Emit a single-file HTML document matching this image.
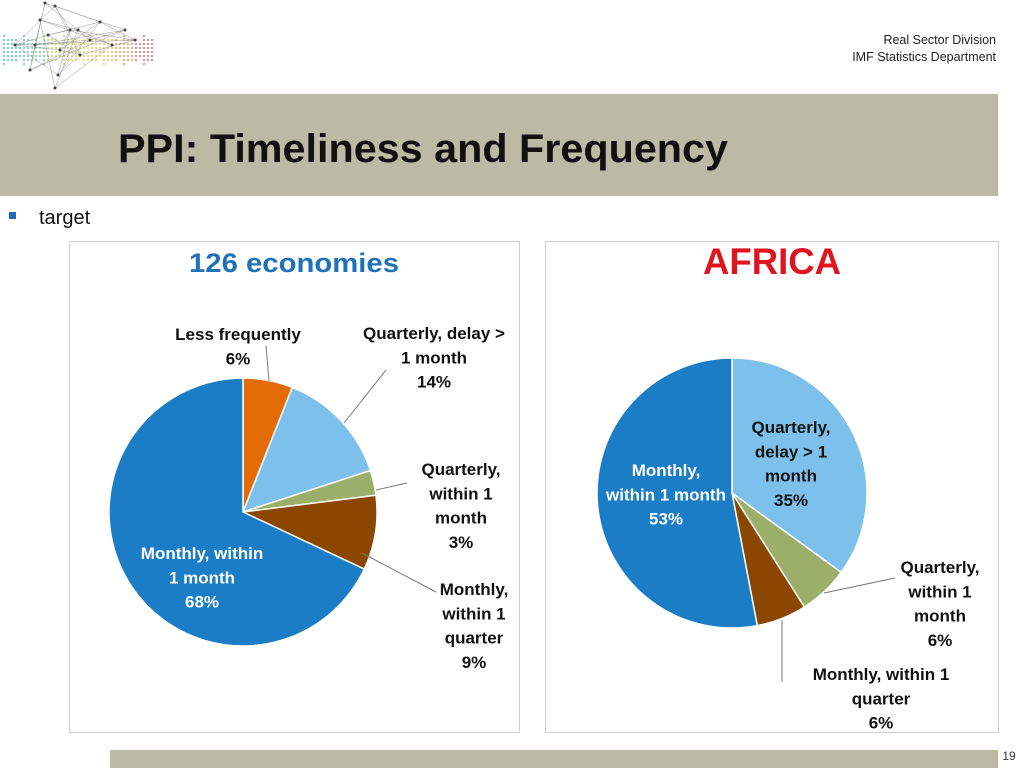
<!DOCTYPE html>
<html><head><meta charset="utf-8">
<style>
html,body{margin:0;padding:0;background:#fff;}
svg{display:block;font-family:"Liberation Sans",sans-serif;}
</style></head>
<body>
<svg id="s" width="1024" height="768" viewBox="0 0 1024 768" xmlns="http://www.w3.org/2000/svg">
  <g id="logo"></g>
  <text x="996" y="44" font-size="12.5" text-anchor="end" fill="#222">Real Sector Division</text>
  <text x="996" y="61" font-size="12.5" text-anchor="end" fill="#222">IMF Statistics Department</text>
  <rect x="0" y="94" width="998" height="102" fill="#BBBBA5"/>
  <text x="118" y="162" font-size="40" font-weight="bold" fill="#111" textLength="610" lengthAdjust="spacingAndGlyphs">PPI: Timeliness and Frequency</text>
  <rect x="9" y="212" width="7" height="7" fill="#1F6DB5"/>
  <text x="39" y="224" font-size="20" fill="#111">target</text>

  <rect x="69.5" y="241.5" width="450" height="491" fill="#fff" stroke="#D0D0D0"/>
  <rect x="545.5" y="241.5" width="453" height="491" fill="#fff" stroke="#D0D0D0"/>
  <text x="294" y="272" font-size="27" font-weight="bold" fill="#1F72B8" text-anchor="middle" textLength="210" lengthAdjust="spacingAndGlyphs">126 economies</text>
  <text x="772" y="274" font-size="37" font-weight="bold" fill="#E0141E" text-anchor="middle" textLength="138" lengthAdjust="spacingAndGlyphs">AFRICA</text>

  <g id="pie1"></g>
  <g id="pie2"></g>
  <g id="labels" font-size="17" font-weight="bold" text-anchor="middle"></g>

  <rect x="110" y="750" width="888" height="18" fill="#BBBBA5"/>
  <text x="1009" y="760" font-size="12" fill="#333" text-anchor="middle">19</text>
</svg>
<script>
const cats1 = ["Less frequently","Quarterly, delay > 1 month","Quarterly, within 1 month","Monthly, within 1 quarter","Monthly, within 1 month"];
const vals1 = [6,14,3,9,68];
const cols1 = ["#E36C09","#7DC0EC","#9BAF6A","#8B4700","#1B7DC6"];
const cats2 = ["Quarterly, delay > 1 month","Quarterly, within 1 month","Monthly, within 1 quarter","Monthly, within 1 month"];
const vals2 = [35,6,6,53];
const cols2 = ["#7DC0EC","#9BAF6A","#8B4700","#1B7DC6"];
const NS="http://www.w3.org/2000/svg";
function pie(g,cx,cy,r,vals,cols,cats){
  const tot=vals.reduce((a,b)=>a+b,0);let a0=0;
  vals.forEach((v,i)=>{
    const a1=a0+v/tot*2*Math.PI;
    const x0=cx+r*Math.sin(a0),y0=cy-r*Math.cos(a0),x1=cx+r*Math.sin(a1),y1=cy-r*Math.cos(a1);
    const p=document.createElementNS(NS,"path");
    p.setAttribute("d",`M${cx},${cy}L${x0},${y0}A${r},${r} 0 ${a1-a0>Math.PI?1:0} 1 ${x1},${y1}Z`);
    p.setAttribute("fill",cols[i]);p.setAttribute("stroke","#fff");p.setAttribute("stroke-width","1.5");
    
    
    g.appendChild(p);a0=a1;
  });
}
pie(document.getElementById("pie1"),243,512,134,vals1,cols1,cats1);
pie(document.getElementById("pie2"),732,493,135,vals2,cols2,cats2);

const L=document.getElementById("labels");
function lab(lines,x,y,fill,name){
  const t=document.createElementNS(NS,"text");
  
  
  t.setAttribute("fill",fill);
  lines.forEach((s,i)=>{const ts=document.createElementNS(NS,"tspan");ts.setAttribute("x",x);ts.setAttribute("y",y+i*24.3);ts.textContent=s;t.appendChild(ts);});
  L.appendChild(t);
}
function ln(pts,name){
  const p=document.createElementNS(NS,"polyline");
  
  
  p.setAttribute("points",pts);p.setAttribute("fill","none");p.setAttribute("stroke","#7a7a7a");p.setAttribute("stroke-width","1");
  L.appendChild(p);
}
const dk="#111";
lab(["Less frequently",vals1[0]+"%"],238,340,dk,"label-less-frequently");
ln("266,346 269,381","leader-less-frequently");
lab(["Quarterly, delay >","1 month",vals1[1]+"%"],434,339,dk,"label-quarterly-delay");
ln("386,370 344,423","leader-quarterly-delay");
lab(["Quarterly,","within 1","month",vals1[2]+"%"],461,475,dk,"label-quarterly-within-month");
ln("407,483 376,490","leader-quarterly-within-month");
lab(["Monthly,","within 1","quarter",vals1[3]+"%"],474,595,dk,"label-monthly-within-quarter");
ln("436,592 362,553","leader-monthly-within-quarter");
lab(["Monthly, within","1 month",vals1[4]+"%"],202,559,"#fff","label-monthly-within-month");

lab(["Quarterly,","delay > 1","month",vals2[0]+"%"],791,433,dk,"label-africa-quarterly-delay");
lab(["Monthly,","within 1 month",vals2[3]+"%"],666,476,"#fff","label-africa-monthly-within-month");
lab(["Quarterly,","within 1","month",vals2[1]+"%"],940,573,dk,"label-africa-quarterly-within-month");
ln("895,578 824,593","leader-africa-quarterly-within-month");
lab(["Monthly, within 1","quarter",vals2[2]+"%"],881,680,dk,"label-africa-monthly-within-quarter");
ln("782,620 782,682","leader-africa-monthly-within-quarter");

// logo approximation
const lg=document.getElementById("logo");
const pal=["#2bb3c9","#4cc07a","#a6d13a","#d8d42a","#f2b233","#ef7d3a","#e8474a"];
for(let i=0;i<38;i++)for(let j=0;j<10;j++){
  const x=4+i*4,y=32+j*4;
  if(Math.abs(j-4.5)>3.5-(i%5)*0.3)continue;
  const c=document.createElementNS(NS,"circle");
  c.setAttribute("cx",x);c.setAttribute("cy",y);c.setAttribute("r",1.1);
  c.setAttribute("fill",pal[Math.min(6,Math.floor(i/38*7))]);c.setAttribute("opacity","0.7");
  lg.appendChild(c);
}
const nodes=[[45,3],[55,6],[40,20],[70,30],[35,45],[60,50],[78,30],[100,22],[125,30],[135,40],[112,45],[15,45],[30,70],[58,75],[55,88],[80,55],[90,40],[48,35]];
for(let a=0;a<nodes.length;a++)for(let b=a+1;b<nodes.length;b++){
  if((a*7+b*3)%4)continue;
  const l=document.createElementNS(NS,"line");
  l.setAttribute("x1",nodes[a][0]);l.setAttribute("y1",nodes[a][1]);l.setAttribute("x2",nodes[b][0]);l.setAttribute("y2",nodes[b][1]);
  l.setAttribute("stroke","#999");l.setAttribute("stroke-width","0.5");lg.appendChild(l);
}
nodes.forEach(n=>{const c=document.createElementNS(NS,"circle");c.setAttribute("cx",n[0]);c.setAttribute("cy",n[1]);c.setAttribute("r",1.5);c.setAttribute("fill","#444");lg.appendChild(c);});
</script>
</body></html>
